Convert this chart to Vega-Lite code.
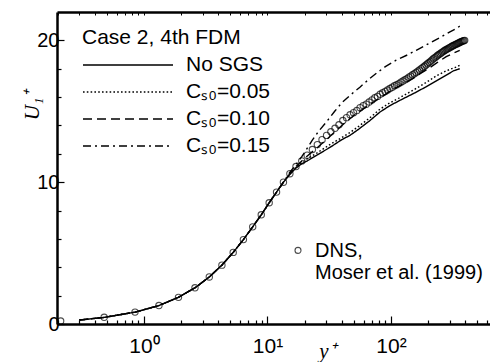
{
  "$schema": "https://vega.github.io/schema/vega-lite/v6.json",
  "width": 433,
  "height": 312,
  "autosize": {"type": "none"},
  "padding": {"left": 57, "top": 12, "right": 0, "bottom": 38},
  "config": {"view": {"stroke": null}, "font": "Liberation Sans", "background": "white"},
  "datasets": {
    "les": [
      {"case": "No SGS", "yp": 0.3, "u": 0.28}, {"case": "No SGS", "yp": 0.48, "u": 0.47}, {"case": "No SGS", "yp": 0.85, "u": 0.84}, {"case": "No SGS", "yp": 1.32, "u": 1.3}, {"case": "No SGS", "yp": 1.9, "u": 1.88}, {"case": "No SGS", "yp": 2.59, "u": 2.55}, {"case": "No SGS", "yp": 3.38, "u": 3.32}, {"case": "No SGS", "yp": 4.27, "u": 4.15}, {"case": "No SGS", "yp": 5.28, "u": 5.05}, {"case": "No SGS", "yp": 6.38, "u": 5.95}, {"case": "No SGS", "yp": 7.59, "u": 6.85}, {"case": "No SGS", "yp": 8.9, "u": 7.7}, {"case": "No SGS", "yp": 10.32, "u": 8.55}, {"case": "No SGS", "yp": 11.84, "u": 9.3}, {"case": "No SGS", "yp": 13.46, "u": 10.0},
      {"case": "No SGS", "yp": 15.18, "u": 10.55}, {"case": "No SGS", "yp": 17.01, "u": 11.0}, {"case": "No SGS", "yp": 18.94, "u": 11.3}, {"case": "No SGS", "yp": 21, "u": 11.5}, {"case": "No SGS", "yp": 25, "u": 11.9}, {"case": "No SGS", "yp": 32, "u": 12.45}, {"case": "No SGS", "yp": 40, "u": 13.0}, {"case": "No SGS", "yp": 46.5, "u": 13.3}, {"case": "No SGS", "yp": 55, "u": 13.75}, {"case": "No SGS", "yp": 67.6, "u": 14.35}, {"case": "No SGS", "yp": 81.5, "u": 14.95}, {"case": "No SGS", "yp": 98, "u": 15.4}, {"case": "No SGS", "yp": 120, "u": 15.8}, {"case": "No SGS", "yp": 152, "u": 16.25}, {"case": "No SGS", "yp": 190, "u": 16.7}, {"case": "No SGS", "yp": 233, "u": 17.15}, {"case": "No SGS", "yp": 280, "u": 17.55}, {"case": "No SGS", "yp": 320, "u": 17.85}, {"case": "No SGS", "yp": 360, "u": 18.0},
      {"case": "Cₛ₀=0.05", "yp": 0.3, "u": 0.28}, {"case": "Cₛ₀=0.05", "yp": 0.48, "u": 0.47}, {"case": "Cₛ₀=0.05", "yp": 0.85, "u": 0.84}, {"case": "Cₛ₀=0.05", "yp": 1.32, "u": 1.3}, {"case": "Cₛ₀=0.05", "yp": 1.9, "u": 1.88}, {"case": "Cₛ₀=0.05", "yp": 2.59, "u": 2.55}, {"case": "Cₛ₀=0.05", "yp": 3.38, "u": 3.32}, {"case": "Cₛ₀=0.05", "yp": 4.27, "u": 4.15}, {"case": "Cₛ₀=0.05", "yp": 5.28, "u": 5.05}, {"case": "Cₛ₀=0.05", "yp": 6.38, "u": 5.95}, {"case": "Cₛ₀=0.05", "yp": 7.59, "u": 6.85}, {"case": "Cₛ₀=0.05", "yp": 8.9, "u": 7.7}, {"case": "Cₛ₀=0.05", "yp": 10.32, "u": 8.55}, {"case": "Cₛ₀=0.05", "yp": 11.84, "u": 9.3}, {"case": "Cₛ₀=0.05", "yp": 13.46, "u": 10.0},
      {"case": "Cₛ₀=0.05", "yp": 15.18, "u": 10.6}, {"case": "Cₛ₀=0.05", "yp": 17.01, "u": 11.05}, {"case": "Cₛ₀=0.05", "yp": 18.94, "u": 11.4}, {"case": "Cₛ₀=0.05", "yp": 21, "u": 11.65}, {"case": "Cₛ₀=0.05", "yp": 25, "u": 12.05}, {"case": "Cₛ₀=0.05", "yp": 32, "u": 12.65}, {"case": "Cₛ₀=0.05", "yp": 40, "u": 13.15}, {"case": "Cₛ₀=0.05", "yp": 46.5, "u": 13.5}, {"case": "Cₛ₀=0.05", "yp": 55, "u": 13.95}, {"case": "Cₛ₀=0.05", "yp": 67.6, "u": 14.55}, {"case": "Cₛ₀=0.05", "yp": 81.5, "u": 15.15}, {"case": "Cₛ₀=0.05", "yp": 98, "u": 15.6}, {"case": "Cₛ₀=0.05", "yp": 120, "u": 16.0}, {"case": "Cₛ₀=0.05", "yp": 152, "u": 16.5}, {"case": "Cₛ₀=0.05", "yp": 190, "u": 17.0}, {"case": "Cₛ₀=0.05", "yp": 233, "u": 17.5}, {"case": "Cₛ₀=0.05", "yp": 280, "u": 17.85}, {"case": "Cₛ₀=0.05", "yp": 320, "u": 18.05}, {"case": "Cₛ₀=0.05", "yp": 345, "u": 18.15}, {"case": "Cₛ₀=0.05", "yp": 360, "u": 18.25},
      {"case": "Cₛ₀=0.10", "yp": 0.3, "u": 0.28}, {"case": "Cₛ₀=0.10", "yp": 0.48, "u": 0.47}, {"case": "Cₛ₀=0.10", "yp": 0.85, "u": 0.84}, {"case": "Cₛ₀=0.10", "yp": 1.32, "u": 1.3}, {"case": "Cₛ₀=0.10", "yp": 1.9, "u": 1.88}, {"case": "Cₛ₀=0.10", "yp": 2.59, "u": 2.55}, {"case": "Cₛ₀=0.10", "yp": 3.38, "u": 3.32}, {"case": "Cₛ₀=0.10", "yp": 4.27, "u": 4.15}, {"case": "Cₛ₀=0.10", "yp": 5.28, "u": 5.05}, {"case": "Cₛ₀=0.10", "yp": 6.38, "u": 5.95}, {"case": "Cₛ₀=0.10", "yp": 7.59, "u": 6.85}, {"case": "Cₛ₀=0.10", "yp": 8.9, "u": 7.7}, {"case": "Cₛ₀=0.10", "yp": 10.32, "u": 8.55}, {"case": "Cₛ₀=0.10", "yp": 11.84, "u": 9.3}, {"case": "Cₛ₀=0.10", "yp": 13.46, "u": 10.0},
      {"case": "Cₛ₀=0.10", "yp": 15.18, "u": 10.6}, {"case": "Cₛ₀=0.10", "yp": 17.01, "u": 11.1}, {"case": "Cₛ₀=0.10", "yp": 18.94, "u": 11.5}, {"case": "Cₛ₀=0.10", "yp": 21, "u": 11.85}, {"case": "Cₛ₀=0.10", "yp": 25, "u": 12.4}, {"case": "Cₛ₀=0.10", "yp": 30, "u": 13.0}, {"case": "Cₛ₀=0.10", "yp": 40, "u": 14.0}, {"case": "Cₛ₀=0.10", "yp": 50, "u": 14.7}, {"case": "Cₛ₀=0.10", "yp": 65, "u": 15.4}, {"case": "Cₛ₀=0.10", "yp": 81.6, "u": 15.95}, {"case": "Cₛ₀=0.10", "yp": 100, "u": 16.45}, {"case": "Cₛ₀=0.10", "yp": 120, "u": 16.85}, {"case": "Cₛ₀=0.10", "yp": 150, "u": 17.3}, {"case": "Cₛ₀=0.10", "yp": 172, "u": 17.65}, {"case": "Cₛ₀=0.10", "yp": 200, "u": 18.0}, {"case": "Cₛ₀=0.10", "yp": 233, "u": 18.4}, {"case": "Cₛ₀=0.10", "yp": 280, "u": 18.85}, {"case": "Cₛ₀=0.10", "yp": 320, "u": 19.1}, {"case": "Cₛ₀=0.10", "yp": 360, "u": 19.3},
      {"case": "Cₛ₀=0.15", "yp": 0.3, "u": 0.28}, {"case": "Cₛ₀=0.15", "yp": 0.48, "u": 0.47}, {"case": "Cₛ₀=0.15", "yp": 0.85, "u": 0.84}, {"case": "Cₛ₀=0.15", "yp": 1.32, "u": 1.3}, {"case": "Cₛ₀=0.15", "yp": 1.9, "u": 1.88}, {"case": "Cₛ₀=0.15", "yp": 2.59, "u": 2.55}, {"case": "Cₛ₀=0.15", "yp": 3.38, "u": 3.32}, {"case": "Cₛ₀=0.15", "yp": 4.27, "u": 4.15}, {"case": "Cₛ₀=0.15", "yp": 5.28, "u": 5.05}, {"case": "Cₛ₀=0.15", "yp": 6.38, "u": 5.95}, {"case": "Cₛ₀=0.15", "yp": 7.59, "u": 6.85}, {"case": "Cₛ₀=0.15", "yp": 8.9, "u": 7.7}, {"case": "Cₛ₀=0.15", "yp": 10.32, "u": 8.55}, {"case": "Cₛ₀=0.15", "yp": 11.84, "u": 9.3}, {"case": "Cₛ₀=0.15", "yp": 13.46, "u": 10.0},
      {"case": "Cₛ₀=0.15", "yp": 15.18, "u": 10.7}, {"case": "Cₛ₀=0.15", "yp": 17.01, "u": 11.25}, {"case": "Cₛ₀=0.15", "yp": 18.94, "u": 11.8}, {"case": "Cₛ₀=0.15", "yp": 21, "u": 12.4}, {"case": "Cₛ₀=0.15", "yp": 23, "u": 12.95}, {"case": "Cₛ₀=0.15", "yp": 26, "u": 13.6}, {"case": "Cₛ₀=0.15", "yp": 30, "u": 14.25}, {"case": "Cₛ₀=0.15", "yp": 35, "u": 15.0}, {"case": "Cₛ₀=0.15", "yp": 40, "u": 15.6}, {"case": "Cₛ₀=0.15", "yp": 47, "u": 16.15}, {"case": "Cₛ₀=0.15", "yp": 56, "u": 16.7}, {"case": "Cₛ₀=0.15", "yp": 66, "u": 17.25}, {"case": "Cₛ₀=0.15", "yp": 78, "u": 17.75}, {"case": "Cₛ₀=0.15", "yp": 90, "u": 18.15}, {"case": "Cₛ₀=0.15", "yp": 110, "u": 18.6}, {"case": "Cₛ₀=0.15", "yp": 134, "u": 18.95}, {"case": "Cₛ₀=0.15", "yp": 160, "u": 19.3}, {"case": "Cₛ₀=0.15", "yp": 200, "u": 19.75}, {"case": "Cₛ₀=0.15", "yp": 249, "u": 20.2}, {"case": "Cₛ₀=0.15", "yp": 300, "u": 20.6}, {"case": "Cₛ₀=0.15", "yp": 340, "u": 20.85}, {"case": "Cₛ₀=0.15", "yp": 360, "u": 21.0}
    ],
    "dns": [
      {"src": "DNS", "yp": 0.2115, "u": 0.21}, {"src": "DNS", "yp": 0.476, "u": 0.47}, {"src": "DNS", "yp": 0.846, "u": 0.84}, {"src": "DNS", "yp": 1.322, "u": 1.3}, {"src": "DNS", "yp": 1.902, "u": 1.88}, {"src": "DNS", "yp": 2.588, "u": 2.55}, {"src": "DNS", "yp": 3.379, "u": 3.32}, {"src": "DNS", "yp": 4.275, "u": 4.15}, {"src": "DNS", "yp": 5.276, "u": 5.05}, {"src": "DNS", "yp": 6.381, "u": 5.95}, {"src": "DNS", "yp": 7.59, "u": 6.85}, {"src": "DNS", "yp": 8.903, "u": 7.7}, {"src": "DNS", "yp": 10.318, "u": 8.55}, {"src": "DNS", "yp": 11.838, "u": 9.3}, {"src": "DNS", "yp": 13.46, "u": 10.0}, {"src": "DNS", "yp": 15.18, "u": 10.6}, {"src": "DNS", "yp": 17.01, "u": 11.1}, {"src": "DNS", "yp": 18.94, "u": 11.5},
      {"src": "DNS", "yp": 20.96, "u": 11.9}, {"src": "DNS", "yp": 23.09, "u": 12.3}, {"src": "DNS", "yp": 25.32, "u": 12.65}, {"src": "DNS", "yp": 27.64, "u": 13.0}, {"src": "DNS", "yp": 30.07, "u": 13.3}, {"src": "DNS", "yp": 32.59, "u": 13.55}, {"src": "DNS", "yp": 35.21, "u": 13.8}, {"src": "DNS", "yp": 37.92, "u": 14.05}, {"src": "DNS", "yp": 40.74, "u": 14.35}, {"src": "DNS", "yp": 43.64, "u": 14.55}, {"src": "DNS", "yp": 46.64, "u": 14.75}, {"src": "DNS", "yp": 49.73, "u": 14.9}, {"src": "DNS", "yp": 52.92, "u": 15.05}, {"src": "DNS", "yp": 56.2, "u": 15.25}, {"src": "DNS", "yp": 59.57, "u": 15.4}, {"src": "DNS", "yp": 63.02, "u": 15.5}, {"src": "DNS", "yp": 66.57, "u": 15.65}, {"src": "DNS", "yp": 70.2, "u": 15.8}, {"src": "DNS", "yp": 73.93, "u": 15.95}, {"src": "DNS", "yp": 77.73, "u": 16.05}, {"src": "DNS", "yp": 81.63, "u": 16.2}, {"src": "DNS", "yp": 85.6, "u": 16.3}, {"src": "DNS", "yp": 89.66, "u": 16.4}, {"src": "DNS", "yp": 93.8, "u": 16.5}, {"src": "DNS", "yp": 98.02, "u": 16.6}, {"src": "DNS", "yp": 102.32, "u": 16.7}, {"src": "DNS", "yp": 106.7, "u": 16.8}, {"src": "DNS", "yp": 111.16, "u": 16.87}, {"src": "DNS", "yp": 115.69, "u": 16.95}, {"src": "DNS", "yp": 120.3, "u": 17.05}, {"src": "DNS", "yp": 124.98, "u": 17.13}, {"src": "DNS", "yp": 129.73, "u": 17.22}, {"src": "DNS", "yp": 134.56, "u": 17.3}, {"src": "DNS", "yp": 139.45, "u": 17.4}, {"src": "DNS", "yp": 144.41, "u": 17.48}, {"src": "DNS", "yp": 149.44, "u": 17.57}, {"src": "DNS", "yp": 154.54, "u": 17.65}, {"src": "DNS", "yp": 159.7, "u": 17.74}, {"src": "DNS", "yp": 164.92, "u": 17.83}, {"src": "DNS", "yp": 170.21, "u": 17.91}, {"src": "DNS", "yp": 175.55, "u": 18.0}, {"src": "DNS", "yp": 180.95, "u": 18.09}, {"src": "DNS", "yp": 186.41, "u": 18.17}, {"src": "DNS", "yp": 191.93, "u": 18.26}, {"src": "DNS", "yp": 197.5, "u": 18.35}, {"src": "DNS", "yp": 203.12, "u": 18.44}, {"src": "DNS", "yp": 208.8, "u": 18.52}, {"src": "DNS", "yp": 214.52, "u": 18.61}, {"src": "DNS", "yp": 220.3, "u": 18.7}, {"src": "DNS", "yp": 226.12, "u": 18.78}, {"src": "DNS", "yp": 231.98, "u": 18.85}, {"src": "DNS", "yp": 237.89, "u": 18.93}, {"src": "DNS", "yp": 243.84, "u": 19.0}, {"src": "DNS", "yp": 249.83, "u": 19.06}, {"src": "DNS", "yp": 255.86, "u": 19.13}, {"src": "DNS", "yp": 261.93, "u": 19.19}, {"src": "DNS", "yp": 268.03, "u": 19.25}, {"src": "DNS", "yp": 274.17, "u": 19.3}, {"src": "DNS", "yp": 280.34, "u": 19.35}, {"src": "DNS", "yp": 286.54, "u": 19.4}, {"src": "DNS", "yp": 292.77, "u": 19.45}, {"src": "DNS", "yp": 299.02, "u": 19.49}, {"src": "DNS", "yp": 305.31, "u": 19.54}, {"src": "DNS", "yp": 311.61, "u": 19.58}, {"src": "DNS", "yp": 317.94, "u": 19.62}, {"src": "DNS", "yp": 324.29, "u": 19.66}, {"src": "DNS", "yp": 330.66, "u": 19.7}, {"src": "DNS", "yp": 337.04, "u": 19.73}, {"src": "DNS", "yp": 343.44, "u": 19.77}, {"src": "DNS", "yp": 349.86, "u": 19.8}, {"src": "DNS", "yp": 356.28, "u": 19.84}, {"src": "DNS", "yp": 362.72, "u": 19.87}, {"src": "DNS", "yp": 369.17, "u": 19.9}, {"src": "DNS", "yp": 375.62, "u": 19.93}, {"src": "DNS", "yp": 382.08, "u": 19.96}, {"src": "DNS", "yp": 388.54, "u": 19.98}, {"src": "DNS", "yp": 395.0, "u": 20.0}
    ]
  },
  "layer": [
    {
      "data": {"name": "les"},
      "mark": {"type": "line", "color": "black", "strokeWidth": 1.4},
      "encoding": {
        "x": {
          "field": "yp", "type": "quantitative",
          "scale": {"type": "log", "domain": [0.1976, 633]},
          "axis": {
            "orient": "bottom",
            "values": [0.2, 0.3, 0.4, 0.5, 0.6, 0.7, 0.8, 0.9, 1, 2, 3, 4, 5, 6, 7, 8, 9, 10, 20, 30, 40, 50, 60, 70, 80, 90, 100, 200, 300, 400, 500, 600],
            "labelExpr": "datum.value == 1 ? '10⁰' : datum.value == 10 ? '10¹' : datum.value == 100 ? '10²' : ''",
            "labelOverlap": false, "labelFlush": false,
            "labelFont": "Liberation Sans", "labelFontSize": 21, "labelColor": "black", "labelPadding": 19, "labelBaseline": "top",
            "grid": false, "domainColor": "black", "domainWidth": 2.5,
            "tickColor": "black", "tickWidth": 1.2,
            "tickSize": {"condition": {"test": "datum.value == 1 || datum.value == 10 || datum.value == 100", "value": -8}, "value": -4},
            "title": "y⁺", "titleFont": "Liberation Serif", "titleFontStyle": "italic", "titleFontWeight": "normal", "titleFontSize": 21, "titleColor": "black",
            "titleX": 270, "titleY": 33, "titleBaseline": "alphabetic", "titleAlign": "center", "titleAnchor": null
          }
        },
        "y": {
          "field": "u", "type": "quantitative",
          "scale": {"domain": [0, 22], "nice": false, "zero": false},
          "axis": {
            "values": [0, 2, 4, 6, 8, 10, 12, 14, 16, 18, 20],
            "labelExpr": "datum.value % 10 === 0 ? datum.label : ''",
            "labelOverlap": false, "labelFlush": false,
            "labelFont": "Liberation Sans", "labelFontSize": 20, "labelColor": "black", "labelPadding": 5,
            "grid": false, "domainColor": "black", "domainWidth": 2.5,
            "tickColor": "black", "tickWidth": 1.2,
            "tickSize": {"condition": {"test": "datum.value % 10 === 0", "value": -7}, "value": -4},
            "title": "U₁⁺", "titleFont": "Liberation Serif", "titleFontStyle": "italic", "titleFontWeight": "normal", "titleFontSize": 21, "titleColor": "black",
            "titleX": -25, "titleY": 93, "titleAngle": -90, "titleBaseline": "middle", "titleAlign": "center", "titleAnchor": null
          }
        },
        "strokeDash": {
          "field": "case", "type": "nominal",
          "scale": {"domain": ["No SGS", "Cₛ₀=0.05", "Cₛ₀=0.10", "Cₛ₀=0.15"], "range": [[1, 0], [1.6, 2.2], [9, 5], [8, 4, 2, 4]]},
          "legend": {
            "title": "Case 2, 4th FDM", "orient": "none", "legendX": 25, "legendY": 15, "padding": 0,
            "titleFont": "Liberation Sans", "titleFontSize": 21, "titleFontWeight": "normal", "titleColor": "black", "titlePadding": 6,
            "labelFont": "Liberation Sans", "labelFontSize": 21, "labelColor": "black", "labelOffset": 82, "labelLimit": 300,
            "symbolType": "M -1,0 L 8,0", "symbolSize": 400, "symbolStrokeWidth": 1.4, "symbolStrokeColor": "black", "symbolFillColor": "transparent", "rowPadding": 6
          }
        }
      }
    },
    {
      "data": {"name": "dns"},
      "mark": {"type": "point", "filled": false, "size": 40, "strokeWidth": 1.1},
      "encoding": {
        "x": {
          "field": "yp", "type": "quantitative",
          "scale": {"type": "log", "domain": [0.1976, 633]},
          "axis": {
            "orient": "top",
            "values": [0.2, 0.3, 0.4, 0.5, 0.6, 0.7, 0.8, 0.9, 1, 2, 3, 4, 5, 6, 7, 8, 9, 10, 20, 30, 40, 50, 60, 70, 80, 90, 100, 200, 300, 400, 500, 600],
            "labels": false, "grid": false, "title": null,
            "domainColor": "black", "domainWidth": 2.5, "tickColor": "black", "tickWidth": 1, "tickSize": -3
          }
        },
        "y": {"field": "u", "type": "quantitative", "scale": {"domain": [0, 22], "nice": false, "zero": false}, "axis": null},
        "color": {
          "field": "src", "type": "nominal",
          "scale": {"range": ["black"]},
          "legend": {
            "title": null, "orient": "none", "legendX": 231, "legendY": 229, "padding": 0,
            "symbolType": "M 1,-0.2 A 1,1 0 1,1 -1,-0.2 A 1,1 0 1,1 1,-0.2 Z",
            "symbolSize": 36, "symbolStrokeWidth": 1.1, "symbolStrokeColor": "black",
            "labelExpr": "['DNS,', 'Moser et al. (1999)']",
            "labelFont": "Liberation Sans", "labelFontSize": 20, "labelColor": "black", "labelOffset": 7, "labelLimit": 400, "labelBaseline": "middle"
          }
        }
      }
    }
  ],
  "resolve": {"axis": {"x": "independent", "y": "independent"}}
}
